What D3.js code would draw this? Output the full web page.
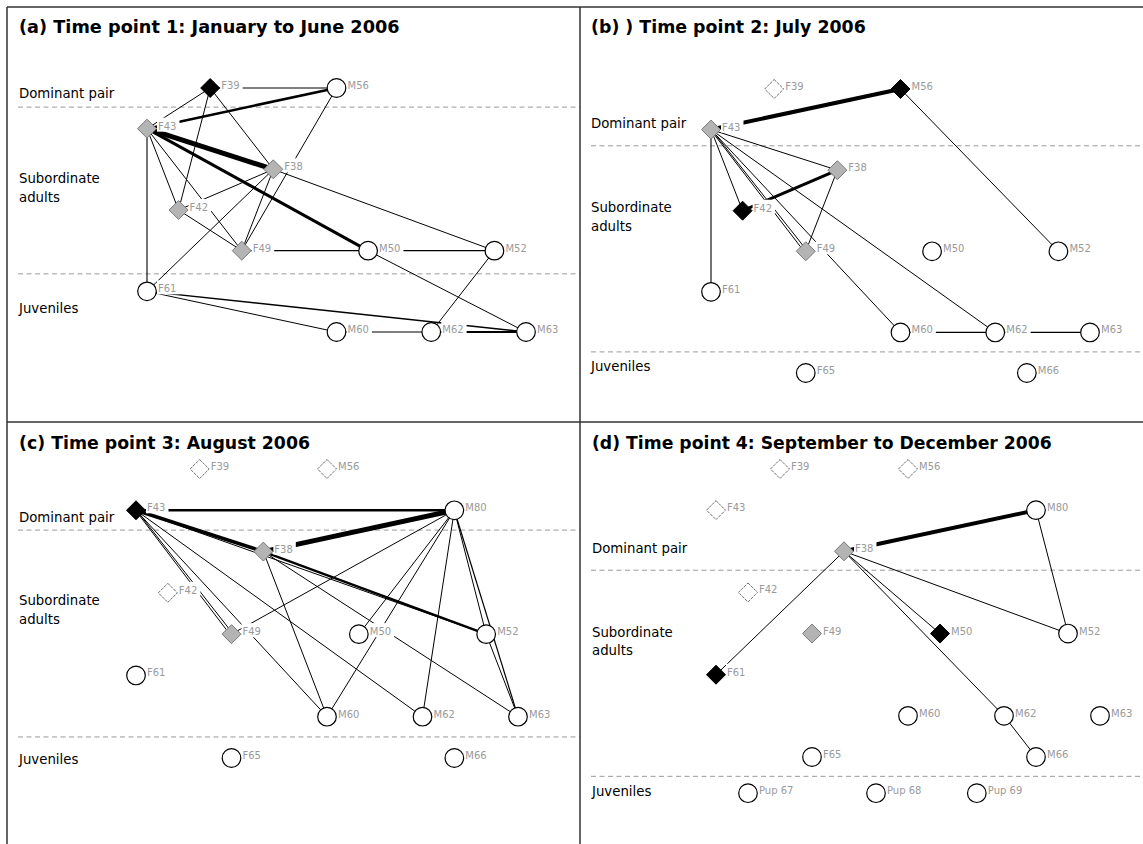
<!DOCTYPE html>
<html>
<head>
<meta charset="utf-8">
<script src="https://cdn.jsdelivr.net/npm/d3@7"></script>
<style>
  html, body { margin: 0; padding: 0; background: #fff; }
  svg { display: block; }
</style>
</head>
<body>
<svg id="chart" width="1143" height="844"></svg>
<script>
// ---------------- DATA ----------------
const titles = [
  "(a) Time point 1: January to June 2006",
  "(b) ) Time point 2: July 2006",
  "(c) Time point 3: August 2006",
  "(d) Time point 4: September to December 2006"
];
const groupNames = ["Dominant pair", "Subordinate", "adults", "Juveniles"];

// nodes: [label, column, row, status]
const nodesA = [
  ["F39", 2, 0, "black"], ["M56", 6, 0, "circle"], ["F43", 0, 1, "gray"],
  ["F38", 4, 2, "gray"], ["F42", 1, 3, "gray"], ["F49", 3, 4, "gray"],
  ["M50", 7, 4, "circle"], ["M52", 11, 4, "circle"], ["F61", 0, 5, "circle"],
  ["M60", 6, 6, "circle"], ["M62", 9, 6, "circle"], ["M63", 12, 6, "circle"]
];
const nodesB = [
  ["F39", 2, 0, "empty"], ["M56", 6, 0, "black"], ["F43", 0, 1, "gray"],
  ["F38", 4, 2, "gray"], ["F42", 1, 3, "black"], ["F49", 3, 4, "gray"],
  ["M50", 7, 4, "circle"], ["M52", 11, 4, "circle"], ["F61", 0, 5, "circle"],
  ["M60", 6, 6, "circle"], ["M62", 9, 6, "circle"], ["M63", 12, 6, "circle"],
  ["F65", 3, 7, "circle"], ["M66", 10, 7, "circle"]
];
const nodesC = [
  ["F39", 2, 0, "empty"], ["M56", 6, 0, "empty"], ["F43", 0, 1, "black"],
  ["M80", 10, 1, "circle"], ["F38", 4, 2, "gray"], ["F42", 1, 3, "empty"],
  ["F49", 3, 4, "gray"], ["M50", 7, 4, "circle"], ["M52", 11, 4, "circle"],
  ["F61", 0, 5, "circle"], ["M60", 6, 6, "circle"], ["M62", 9, 6, "circle"],
  ["M63", 12, 6, "circle"], ["F65", 3, 7, "circle"], ["M66", 10, 7, "circle"]
];
const nodesD = [
  ["F39", 2, 0, "empty"], ["M56", 6, 0, "empty"], ["F43", 0, 1, "empty"],
  ["M80", 10, 1, "circle"], ["F38", 4, 2, "gray"], ["F42", 1, 3, "empty"],
  ["F49", 3, 4, "gray"], ["M50", 7, 4, "black"], ["M52", 11, 4, "circle"],
  ["F61", 0, 5, "black"], ["M60", 6, 6, "circle"], ["M62", 9, 6, "circle"],
  ["M63", 12, 6, "circle"], ["F65", 3, 7, "circle"], ["M66", 10, 7, "circle"],
  ["Pup 67", 1, 7.88, "circle"], ["Pup 68", 5, 7.88, "circle"], ["Pup 69", 8.15, 7.88, "circle"]
];

// edges: [source, target, strength, double?]
const edgesA = [
  ["F39", "M56", 1.2], ["F43", "M56", 2.6], ["F39", "F43", 1], ["F39", "F42", 1],
  ["F39", "F38", 1], ["F43", "F38", 5], ["F43", "M50", 3], ["F43", "F42", 1],
  ["F43", "F49", 1], ["F43", "F61", 1.1], ["F42", "F38", 1], ["F42", "F49", 1],
  ["F38", "F49", 1], ["M56", "F49", 1], ["F38", "M52", 1], ["F38", "F61", 1],
  ["F49", "M50", 1.2], ["M50", "M52", 1.2], ["M50", "M63", 1], ["M52", "M62", 1],
  ["F61", "M60", 1], ["F61", "M63", 1.4], ["M60", "M62", 1.2], ["M62", "M63", 2]
];
const edgesB = [
  ["F43", "M56", 4], ["M56", "M52", 1], ["F43", "F38", 1], ["F43", "F42", 1],
  ["F43", "F49", 1, true], ["F43", "M60", 1], ["F43", "M62", 1], ["F43", "F61", 1.1],
  ["F42", "F38", 3], ["F38", "F49", 1], ["M60", "M62", 1.2], ["M62", "M63", 1.2]
];
const edgesC = [
  ["F43", "M80", 2.6], ["F38", "M80", 5], ["F43", "F38", 3.5], ["F43", "F49", 1, true],
  ["F43", "M60", 1], ["F43", "M62", 1], ["F43", "M52", 1], ["F38", "M52", 2.4],
  ["F38", "M60", 1], ["F38", "M63", 1], ["M80", "F49", 1], ["M80", "M50", 1],
  ["M80", "M60", 1], ["M80", "M62", 1], ["M80", "M52", 1], ["M80", "M63", 1.2],
  ["M52", "M63", 1]
];
const edgesD = [
  ["F38", "M80", 4], ["M80", "M52", 1], ["F38", "M52", 1], ["F38", "M50", 1],
  ["F38", "M62", 1], ["M62", "M66", 1], ["F38", "F61", 1]
];

// dashed separators (in row units) and group label rows (baselines)
const dividersA = [0.47, 4.57];
const dividersB = [1.4, 6.48];
const dividersC = [1.48, 6.49];
const dividersD = [2.46, 7.47];
const labelRowsA = [0.25, 2.34, 2.81, 5.53];
const labelRowsB = [0.96, 3.03, 3.50, 6.95];
const labelRowsC = [1.28, 3.29, 3.75, 7.14];
const labelRowsD = [2.04, 4.08, 4.52, 7.95];

// ---------------- LAYOUT ----------------
const panels = [
  { title: titles[0], nodes: nodesA, edges: edgesA, dividers: dividersA, labelRows: labelRowsA,
    left: 7, right: 580, textX: 19, titleY: 33, titleW: 381,
    xr: [147, 526], yr: [88, 332], rows: 6 },
  { title: titles[1], nodes: nodesB, edges: edgesB, dividers: dividersB, labelRows: labelRowsB,
    left: 580, right: 1143, textX: 591, titleY: 33, titleW: 275,
    xr: [711, 1090], yr: [89, 373], rows: 7 },
  { title: titles[2], nodes: nodesC, edges: edgesC, dividers: dividersC, labelRows: labelRowsC,
    left: 7, right: 580, textX: 19, titleY: 449, titleW: 291,
    xr: [136, 518], yr: [469, 758], rows: 7 },
  { title: titles[3], nodes: nodesD, edges: edgesD, dividers: dividersD, labelRows: labelRowsD,
    left: 580, right: 1143, textX: 592, titleY: 449, titleW: 460,
    xr: [716, 1100], yr: [469, 757], rows: 7 }
];

const svg = d3.select("#chart");
svg.append("rect").attr("width", 1143).attr("height", 844).attr("fill", "#fff");

const FONT = "'DejaVu Sans', Verdana, sans-serif";
const diamond = (r) => `M0,${-r}L${r},0L0,${r}L${-r},0Z`;

panels.forEach(p => {
  const g = svg.append("g");
  const x = d3.scaleLinear().domain([0, 12]).range(p.xr);
  const y = d3.scaleLinear().domain([0, p.rows]).range(p.yr);
  const pos = new Map(p.nodes.map(d => [d[0], { x: x(d[1]), y: y(d[2]) }]));

  // title (fitted to reference width)
  const t = g.append("text")
    .attr("x", p.textX).attr("y", p.titleY)
    .attr("font-family", FONT).attr("font-weight", "bold")
    .attr("font-size", 16).attr("fill", "#000")
    .text(p.title);
  const w = t.node().getComputedTextLength();
  t.attr("font-size", (16 * p.titleW / w).toFixed(2));

  // group labels
  groupNames.forEach((name, i) => {
    g.append("text")
      .attr("x", p.textX).attr("y", y(p.labelRows[i]))
      .attr("font-family", FONT).attr("font-size", 13.3)
      .attr("fill", "#000").text(name);
  });

  // dashed separators
  g.selectAll("line.div").data(p.dividers).join("line")
    .attr("x1", p.left + 11).attr("x2", p.right)
    .attr("y1", d => y(d)).attr("y2", d => y(d))
    .attr("stroke", "#9a9a9a").attr("stroke-width", 1)
    .attr("stroke-dasharray", "5,3.5");

  // edges
  const eg = g.append("g");
  p.edges.forEach(e => {
    const a = pos.get(e[0]), b = pos.get(e[1]);
    if (e[3]) {
      const dx = b.x - a.x, dy = b.y - a.y, L = Math.hypot(dx, dy);
      const nx = -dy / L * 1.4, ny = dx / L * 1.4;
      [-1, 1].forEach(s => {
        eg.append("line")
          .attr("x1", a.x + s * nx * 0.3).attr("y1", a.y + s * ny * 0.3)
          .attr("x2", b.x + s * nx).attr("y2", b.y + s * ny)
          .attr("stroke", "#000").attr("stroke-width", e[2]);
      });
    } else {
      eg.append("line")
        .attr("x1", a.x).attr("y1", a.y).attr("x2", b.x).attr("y2", b.y)
        .attr("stroke", "#000").attr("stroke-width", e[2]);
    }
  });

  // layers: label backgrounds, nodes, label texts
  const bgs = g.append("g");
  const ng = g.append("g");
  const lbl = g.append("g");

  const txt = lbl.selectAll("text").data(p.nodes).join("text")
    .attr("x", d => x(d[1]) + 11).attr("y", d => y(d[2]) + 1)
    .attr("font-family", FONT).attr("font-size", 10)
    .attr("fill", "#9a9a9a").text(d => d[0]);
  txt.each(function () {
    const bb = this.getBBox();
    bgs.append("rect")
      .attr("x", bb.x - 1).attr("y", bb.y - 3)
      .attr("width", bb.width + 4).attr("height", bb.height + 3)
      .attr("fill", "#fff");
  });

  p.nodes.forEach(d => {
    const cx = x(d[1]), cy = y(d[2]);
    if (d[3] === "circle") {
      ng.append("circle").attr("cx", cx).attr("cy", cy).attr("r", 9.3)
        .attr("fill", "#fff").attr("stroke", "#000").attr("stroke-width", 1.2);
    } else {
      const fill = d[3] === "black" ? "#000" : d[3] === "gray" ? "#b4b4b4" : "#fff";
      const stroke = d[3] === "black" ? "#000" : d[3] === "gray" ? "#7a7a7a" : "#6e6e6e";
      ng.append("path").attr("d", diamond(9.5))
        .attr("transform", `translate(${cx},${cy})`)
        .attr("fill", fill).attr("stroke", stroke)
        .attr("stroke-width", 1)
        .attr("stroke-dasharray", d[3] === "empty" ? "3,1" : null);
    }
  });
});

// panel frame
const frame = [
  [7, 7, 1143, 7], [7, 7, 7, 844], [580, 7, 580, 844], [7, 422, 1143, 422]
];
svg.append("g").selectAll("line").data(frame).join("line")
  .attr("x1", d => d[0]).attr("y1", d => d[1]).attr("x2", d => d[2]).attr("y2", d => d[3])
  .attr("stroke", "#333").attr("stroke-width", 1.5);
</script>
</body>
</html>
